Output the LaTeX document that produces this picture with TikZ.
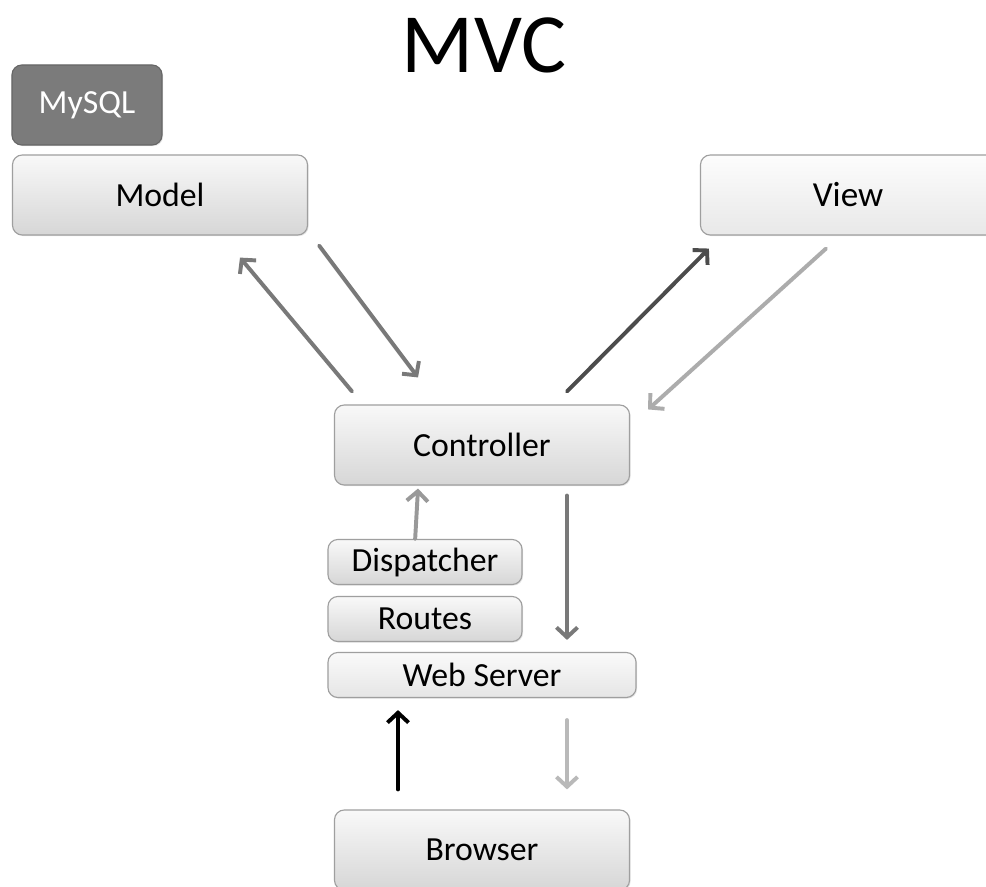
\documentclass[tikz,border=0pt]{standalone}
\usepackage{fontspec}
\setmainfont{Carlito}
\usetikzlibrary{arrows.meta,shadows}

\tikzset{
  box/.style={draw=gray!75, rounded corners=7pt, line width=0.8pt,
    top color=gray!5, bottom color=gray!32, inner sep=0pt,
    drop shadow={opacity=0.2, shadow xshift=0.8pt, shadow yshift=-0.8pt},
    font=\fontsize{24}{26}\selectfont},
  bigbox/.style={box, minimum width=7.375cm, minimum height=2cm},
  smallbox/.style={box, minimum width=4.85cm, minimum height=1.125cm},
  arr/.style={line width=2.8pt, line cap=round,
    -{Straight Barb[length=7pt,width=15pt,line width=2.8pt]}}
}

\begin{document}
\begin{tikzpicture}[x=0.025cm, y=-0.025cm]
  \clip (0,0) rectangle (986,887);
  \fill[white] (0,0) rectangle (986,887);

  % titel
  \node (title) at (484,45) {\fontsize{60}{64}\selectfont MVC};

  % boxes
  \node[box, minimum width=3.75cm, minimum height=2cm, draw=gray!80!black,
    top color=gray!85!black!90, bottom color=gray!85!black!90, text=white]
    (mysql) at (87,105) {MySQL};
  \node[bigbox] (model) at (160,195) {Model};
  \node[bigbox, top color=gray!2, bottom color=gray!18,
    font=\fontsize{25}{27}\selectfont] (view) at (848,195) {View};
  \node[bigbox] (controller) at (482,445) {Controller};
  \node[smallbox] (dispatcher) at (425,562) {Dispatcher};
  \node[smallbox] (routes) at (425,619) {Routes};
  \node[smallbox, minimum width=7.7cm, top color=gray!4, bottom color=gray!20]
    (webserver) at (482,675) {Web Server};
  \node[bigbox] (browser) at (482,850) {Browser};

  % arrows
  \draw[arr, gray!95!black] ([shift={(-130,-13)}]controller.north) -- ([shift={(80,22)}]model.south);
  \draw[arr, gray!95!black] ([shift={(11,10)}]model.south east) -- ([shift={(-64,-27)}]controller.north);
  \draw[arr, black!70] ([shift={(85,-13)}]controller.north) -- ([shift={(9,13)}]view.south west);
  \draw[arr, gray!65] ([shift={(-22,13)}]view.south) -- ([shift={(18,5)}]controller.north east);
  \draw[arr, gray!80] ([xshift=-7]dispatcher.north) -- ([shift={(-64,3)}]controller.south);
  \draw[arr, gray!95!black] ([shift={(85,10)}]controller.south) -- ([shift={(85,-12)}]webserver.north);
  \draw[arr, black] ([shift={(-84,-20)}]browser.north) -- ([shift={(-84,12)}]webserver.south);
  \draw[arr, gray!55] ([shift={(85,22)}]webserver.south) -- ([shift={(85,-20)}]browser.north);

\end{tikzpicture}
\end{document}
